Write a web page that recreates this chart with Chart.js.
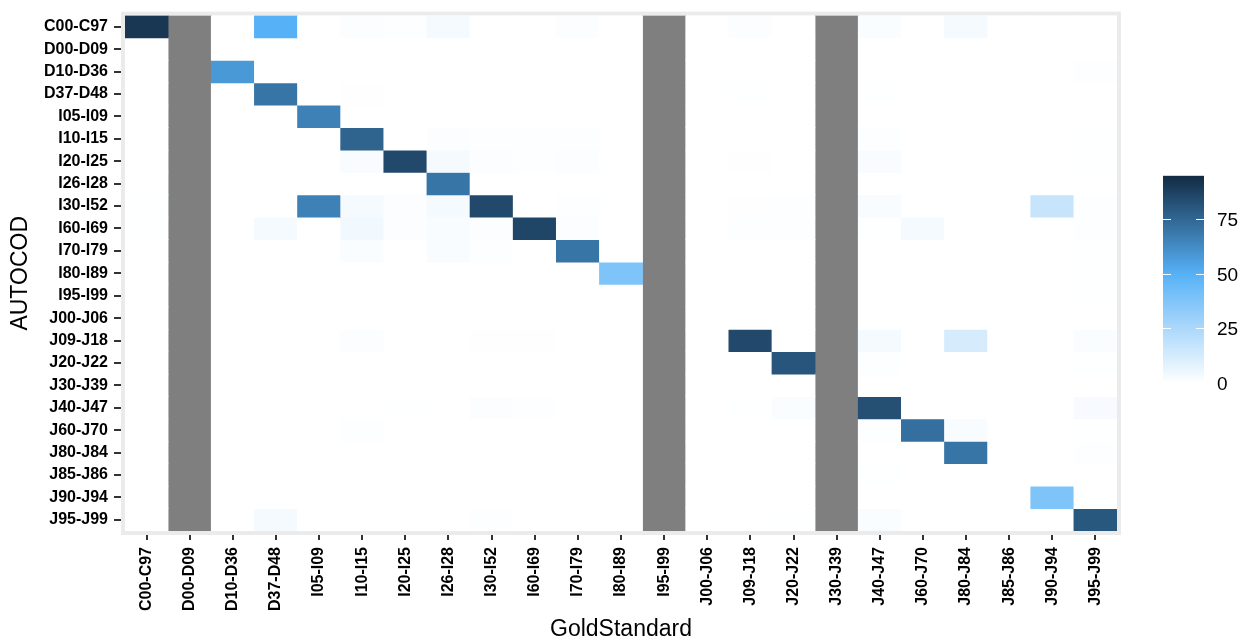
<!DOCTYPE html>
<html>
<head>
<meta charset="utf-8">
<script src="https://cdn.jsdelivr.net/npm/chart.js@4.4.1/dist/chart.umd.min.js"></script>
<style>
  html, body { margin: 0; padding: 0; background: #fff; }
</style>
</head>
<body>
<canvas id="heatmap" width="1246" height="643"></canvas>
<script>
// categorias (columnas = GoldStandard, filas = AUTOCOD)
const goldStandard = ['C00-C97','D00-D09','D10-D36','D37-D48','I05-I09','I10-I15','I20-I25','I26-I28','I30-I52','I60-I69','I70-I79','I80-I89','I95-I99','J00-J06','J09-J18','J20-J22','J30-J39','J40-J47','J60-J70','J80-J84','J85-J86','J90-J94','J95-J99'];
const autocod = ['C00-C97','D00-D09','D10-D36','D37-D48','I05-I09','I10-I15','I20-I25','I26-I28','I30-I52','I60-I69','I70-I79','I80-I89','I95-I99','J00-J06','J09-J18','J20-J22','J30-J39','J40-J47','J60-J70','J80-J84','J85-J86','J90-J94','J95-J99'];
const naColumns = ['D00-D09','I95-I99','J30-J39']; // columnas grises (sin dato)
const legendTicks = [0, 25, 50, 75];
const scaleMax = 95;

// porcentaje por fila (AUTOCOD), una posicion por columna (GoldStandard); null = NA
const _ = null;
const cellValues = [
  [91,_,0,50,0,1,0.8,3,0,0,1,0,_,0,1,0,_,1.5,0,3,0,0,0],
  [0,_,0,0,0,0,0,0,0,0,0,0,_,0,0,0,_,0,0,0,0,0,0],
  [0,_,58,0,0,0,0,0,0,0,0,0,_,0,0,0,_,0,0,0,0,0,0.5],
  [0,_,0,70,0,0.4,0,0,0,0,0,0,_,0,0.2,0,_,0.3,0,0,0,0,0],
  [0,_,0,0,66,0,0,0,0,0,0,0,_,0,0,0,_,0,0,0,0,0,0],
  [0,_,0,0,0,76,0,1,0.5,0.5,0.5,0,_,0,0,0,_,0.5,0,0,0,0,0.3],
  [0,_,0,0,0,2,85,3,1,0.8,1,0,_,0,0.4,0,_,2,0,0,0,0,0.3],
  [0,_,0,0,0,0,0,70,0,0,0,0,_,0,0,0,_,0,0,0,0,0,0],
  [0.3,_,0,0,66,3,1,3,85,0,0.8,0,_,0,0.4,0.8,_,2,0,0,0,17,0.5],
  [0.3,_,0,3,0,4,1,2,1,86,1,0,_,0,0.5,0.6,_,0.3,3,0,0,0,0.7],
  [0,_,0,0,0,1.5,0,2,0.6,0,70,0,_,0,0,0,_,0,0,0,0,0,0.3],
  [0,_,0,0,0,0,0,0,0,0,0,38,_,0,0,0,_,0,0,0,0,0,0.3],
  [0,_,0,0,0,0,0,0,0,0,0,0,_,0,0,0,_,0,0,0,0,0,0.2],
  [0,_,0,0,0,0,0,0,0,0,0,0,_,0,0,0,_,0,0,0,0,0,0],
  [0,_,0,0,0,1.2,0,0,0.4,0.4,0,0,_,0,85,0,_,3,0,12,0,0,1.5],
  [0,_,0,0,0,0,0,0,0,0,0,0,_,0,0,81,_,0.6,0,0,0,0,0.3],
  [0,_,0,0,0,0,0,0,0,0,0,0,_,0,0,0,_,0,0,0,0,0,0],
  [0,_,0,0,0,0,0.3,0,1,0.5,0,0,_,0,0.3,1.5,_,83,0,0,0,0,2.5],
  [0,_,0,0,0,0.6,0,0,0,0,0,0,_,0,0,0,_,0.5,72,2,0,0,0.3],
  [0,_,0,0,0,0,0,0,0,0,0,0,_,0,0,0,_,0,0,70,0,0,0.5],
  [0,_,0,0,0,0,0,0,0,0,0,0,_,0,0,0,_,0.3,0,0,0,0,0],
  [0,_,0,0,0,0,0,0,0,0,0,0,_,0,0,0,_,0,0,0,0,38,0],
  [0,_,0,3,0,0,0,0,0.5,0,0,0,_,0,0,0.2,_,1.5,0,0,0,0,80]
];

const FONT = "'Liberation Sans', Arial, sans-serif";
const WHITE = [255, 255, 255], MID = [86, 177, 247], DARK = [19, 43, 67];

function mezcla(a, b, t) {
  return a.map((v, i) => Math.round(v + (b[i] - v) * t));
}
function colorPara(v) { // blanco -> celeste (50) -> azul oscuro (max)
  const c = v <= 50 ? mezcla(WHITE, MID, v / 50) : mezcla(MID, DARK, Math.min(1, (v - 50) / (scaleMax - 50)));
  return 'rgb(' + c.join(',') + ')';
}

// una serie por fila: barras flotantes de alto 1 en el eje y
const datasets = autocod.map((fila, r) => ({
  label: fila,
  data: goldStandard.map((g, c) => cellValues[r][c] === null ? null : [r - 0.5, r + 0.5]),
  backgroundColor: goldStandard.map((g, c) => colorPara(cellValues[r][c] || 0)),
  borderWidth: 0,
  grouped: false,
  barPercentage: 1,
  categoryPercentage: 1
}));
// columnas NA en gris, de arriba a abajo
datasets.push({
  label: 'NA',
  data: goldStandard.map(g => naColumns.includes(g) ? [-0.5, autocod.length - 0.5] : null),
  backgroundColor: '#7F7F7F',
  borderWidth: 0,
  grouped: false,
  barPercentage: 1,
  categoryPercentage: 1
});

const marcoPanel = {
  id: 'marcoPanel',
  beforeDatasetsDraw(chart) {
    const { ctx, chartArea: a } = chart;
    ctx.save();
    ctx.strokeStyle = '#EBEBEB';
    ctx.lineWidth = 4;
    ctx.strokeRect(a.left - 2, a.top - 2, a.width + 4, a.height + 4);
    ctx.restore();
  }
};

const leyendaColor = {
  id: 'leyendaColor',
  afterDraw(chart) {
    const { ctx, chartArea: a } = chart;
    const x = a.right + 46, w = 41;
    const alto = 207;
    const base = (a.top + a.bottom) / 2 + alto / 2 + 6;
    const tope = base - alto;
    const yDe = v => base - v / scaleMax * alto;
    const grad = ctx.createLinearGradient(0, base, 0, tope);
    for (let v = 0; v <= scaleMax; v += 5) grad.addColorStop(v / scaleMax, colorPara(v));
    ctx.save();
    ctx.fillStyle = grad;
    ctx.fillRect(x, tope, w, alto);
    ctx.strokeStyle = '#ffffff';
    ctx.lineWidth = 1;
    ctx.font = '19px ' + FONT;
    ctx.fillStyle = '#000';
    ctx.textBaseline = 'middle';
    legendTicks.forEach(t => {
      const y = Math.round(yDe(t)) + 0.5;
      ctx.beginPath();
      ctx.moveTo(x, y); ctx.lineTo(x + 8, y);
      ctx.moveTo(x + w - 8, y); ctx.lineTo(x + w, y);
      ctx.stroke();
      ctx.fillText(String(t), x + w + 13, y + 1);
    });
    ctx.restore();
  }
};

new Chart(document.getElementById('heatmap'), {
  type: 'bar',
  data: { labels: goldStandard, datasets: datasets },
  plugins: [marcoPanel, leyendaColor],
  options: {
    responsive: false,
    animation: false,
    layout: { padding: { top: 9, right: 129, bottom: 0, left: 0 } },
    plugins: { legend: { display: false }, tooltip: { enabled: false } },
    scales: {
      x: {
        type: 'category',
        offset: true,
        grid: { offset: false, drawOnChartArea: false, drawTicks: true, tickLength: 9, tickColor: '#333', lineWidth: 2 },
        border: { display: false },
        ticks: { autoSkip: false, minRotation: 90, maxRotation: 90, color: '#000', padding: 7, font: { family: FONT, size: 16, weight: 'bold' } },
        title: { display: true, text: 'GoldStandard', color: '#000', padding: { top: 0, bottom: 0 }, font: { family: FONT, size: 23 } },
        afterFit(s) { s.height = 112; }
      },
      y: {
        type: 'linear',
        reverse: true,
        min: -0.5,
        max: autocod.length - 0.5,
        afterBuildTicks(s) { s.ticks = autocod.map((_, i) => ({ value: i })); },
        grid: { drawOnChartArea: false, drawTicks: true, tickLength: 11, tickColor: '#333', lineWidth: 2 },
        border: { display: false },
        ticks: { autoSkip: false, color: '#000', padding: 6, font: { family: FONT, size: 16, weight: 'bold' },
                 callback: v => autocod[v] },
        title: { display: true, text: 'AUTOCOD', color: '#000', padding: { top: 7, bottom: 0 }, font: { family: FONT, size: 23 } },
        afterFit(s) { s.width = 125; }
      }
    }
  }
});
</script>
</body>
</html>
